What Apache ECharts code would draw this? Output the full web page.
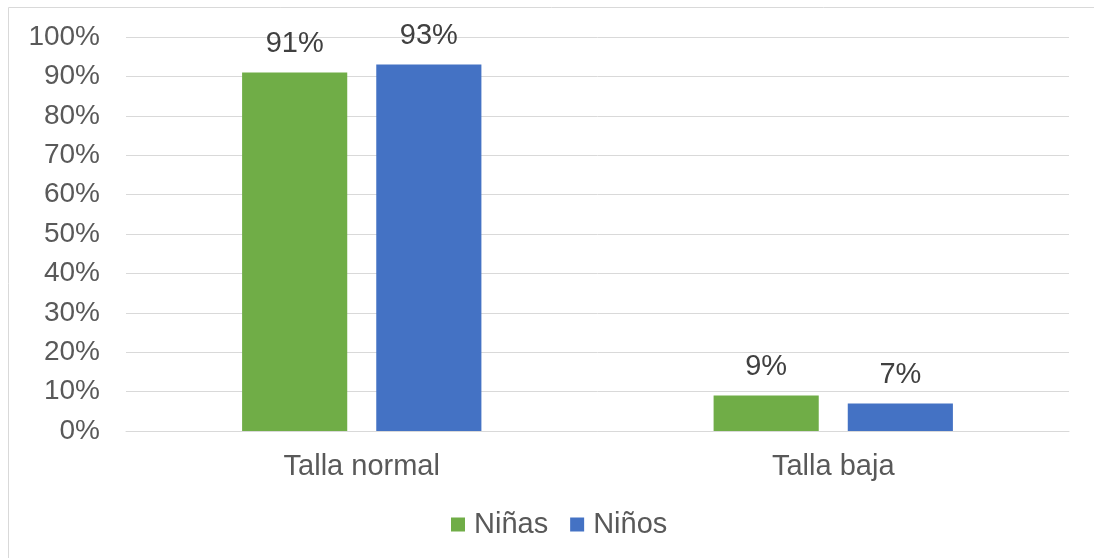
<!DOCTYPE html>
<html>
<head>
<meta charset="utf-8">
<script src="https://cdn.jsdelivr.net/npm/echarts@6/dist/echarts.min.js"></script>
<style>
  html, body { margin: 0; padding: 0; background: #fff; }
  #chart { width: 1094px; height: 558px; }
</style>
</head>
<body>
<div id="chart"></div>
<script>
var categories = ['Talla normal', 'Talla baja'];
var ninas = [91, 9];
var ninos = [93, 7];
var yTicks = [0, 10, 20, 30, 40, 50, 60, 70, 80, 90, 100];

var myChart = echarts.init(document.getElementById('chart'));
var font = '"Liberation Sans", Arial, sans-serif';

var option = {
    animation: false,
    textStyle: { fontFamily: font },
    graphic: [{
        type: 'rect',
        shape: { x: 8.5, y: 7.5, width: 1100, height: 560 },
        style: { fill: 'none', stroke: '#d9d9d9', lineWidth: 1 },
        silent: true
    }],
    grid: { left: 126, right: 25, top: 37, bottom: 127, containLabel: false },
    legend: {
        bottom: 14,
        left: 446,
        itemWidth: 14,
        itemHeight: 14,
        itemGap: 22,
        icon: 'rect',
        textStyle: { fontSize: 29, color: '#595959', fontFamily: font, padding: [0, 0, 0, 4] },
        data: ['Niñas', 'Niños']
    },
    xAxis: {
        type: 'category',
        data: categories,
        axisLine: { lineStyle: { color: '#d9d9d9', width: 1 } },
        axisTick: { show: false },
        axisLabel: { fontSize: 29, color: '#595959', margin: 21 }
    },
    yAxis: {
        type: 'value',
        min: yTicks[0],
        max: yTicks[yTicks.length - 1],
        interval: 10,
        axisLine: { show: false },
        axisTick: { show: false },
        splitLine: { lineStyle: { color: '#d9d9d9', width: 1 } },
        axisLabel: { fontSize: 28, color: '#595959', margin: 26, formatter: '{value}%' }
    },
    series: [
        {
            name: 'Niñas',
            type: 'bar',
            data: ninas,
            barWidth: '22.3%',
            barGap: '27.6%',
            itemStyle: { color: '#70ad47' },
            label: { show: true, position: 'top', distance: 14, fontSize: 29, color: '#404040', formatter: '{c}%' }
        },
        {
            name: 'Niños',
            type: 'bar',
            data: ninos,
            barWidth: '22.3%',
            itemStyle: { color: '#4472c4' },
            label: { show: true, position: 'top', distance: 14, fontSize: 29, color: '#404040', formatter: '{c}%' }
        }
    ]
};
myChart.setOption(option);
</script>
</body>
</html>
